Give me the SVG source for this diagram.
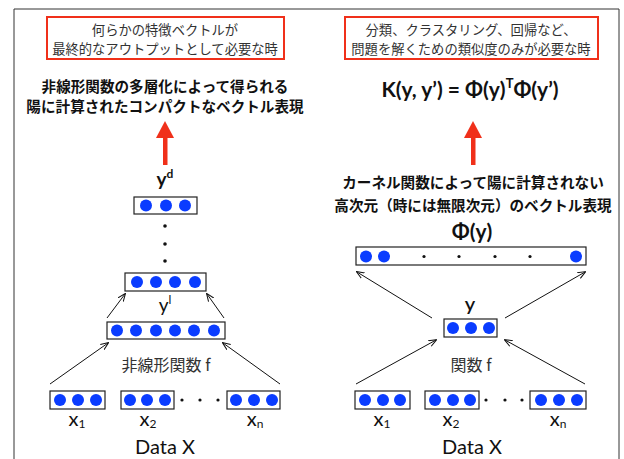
<svg xmlns="http://www.w3.org/2000/svg" width="624" height="459" viewBox="0 0 624 459">
<defs>
<style>
.frame{fill:none;stroke:#333;stroke-width:1}
.rbox{fill:#fff;stroke:#f0301a;stroke-width:2}
.note{font-family:"Noto Sans CJK JP",sans-serif;font-size:13.3px;fill:#333;text-anchor:middle}
.head{font-family:"Noto Sans CJK JP",sans-serif;font-size:14.6px;font-weight:bold;fill:#111;text-anchor:middle}
.lat{font-family:"Lato","Liberation Sans",sans-serif;fill:#111;text-anchor:middle}
.latb{font-family:"Lato","Liberation Sans",sans-serif;font-weight:bold;fill:#111;text-anchor:middle}
.fn{font-family:"Noto Sans CJK JP",sans-serif;font-size:16px;fill:#333;text-anchor:middle}
.vbox{fill:#fff;stroke:#222;stroke-width:1.2}
.dot{fill:#0a3cff}
.sd{fill:#111}
.conn{stroke:#111;stroke-width:1;fill:none;marker-end:url(#ah)}
.red{fill:#f0301a}
</style>
<marker id="ah" viewBox="0 0 10 10" refX="9" refY="5" markerWidth="8" markerHeight="8" orient="auto" markerUnits="userSpaceOnUse">
<path d="M0,1 L10,5 L0,9" fill="none" stroke="#111" stroke-width="1.3"/>
</marker>
</defs>
<rect width="624" height="459" fill="#fff"/>
<path class="frame" d="M14,470 L14,9 L619,9 L619,470"/>

<!-- left side -->
<g id="note-left">
<rect class="rbox" x="47" y="17" width="237" height="42"/>
<text class="note" x="165" y="35">何らかの特徴ベクトルが</text>
<text class="note" x="165" y="54">最終的なアウトプットとして必要な時</text>
</g>
<g id="head-left">
<text class="head" x="165" y="92">非線形関数の多層化によって得られる</text>
<text class="head" x="165" y="112">陽に計算されたコンパクトなベクトル表現</text>
</g>
<g id="arrow-left">
<rect class="red" x="163" y="135" width="4.5" height="30"/>
<polygon class="red" points="156,138 174,138 165,121"/>
</g>
<g id="yd">
<text class="latb" x="165" y="186" font-size="19">y<tspan font-size="12" dy="-8">d</tspan></text>
<rect class="vbox" x="134" y="197" width="63" height="17"/>
<circle class="dot" cx="146" cy="205.5" r="6"/><circle class="dot" cx="166" cy="205.5" r="6"/><circle class="dot" cx="185" cy="205.5" r="6"/>
</g>
<g id="vdots">
<circle class="sd" cx="165" cy="226" r="1.8"/><circle class="sd" cx="165" cy="244" r="1.8"/><circle class="sd" cx="165" cy="261" r="1.8"/>
</g>
<g id="layer4">
<rect class="vbox" x="125" y="273" width="81" height="18"/>
<circle class="dot" cx="137" cy="282" r="6"/><circle class="dot" cx="156" cy="282" r="6"/><circle class="dot" cx="175" cy="282" r="6"/><circle class="dot" cx="195" cy="282" r="6"/>
</g>
<g id="yl">
<text class="lat" x="165" y="312" font-size="19">y<tspan font-size="12" dy="-8">l</tspan></text>
</g>
<g id="layer6">
<rect class="vbox" x="107" y="322" width="118" height="17"/>
<circle class="dot" cx="117" cy="330.5" r="6"/><circle class="dot" cx="136" cy="330.5" r="6"/><circle class="dot" cx="156" cy="330.5" r="6"/><circle class="dot" cx="175" cy="330.5" r="6"/><circle class="dot" cx="194" cy="330.5" r="6"/><circle class="dot" cx="214" cy="330.5" r="6"/>
</g>
<g id="fn-left">
<text class="fn" x="166" y="371">非線形関数 f</text>
</g>
<g id="xl1">
<rect class="vbox" x="50" y="391" width="55" height="18"/>
<circle class="dot" cx="60" cy="400" r="6"/><circle class="dot" cx="78" cy="400" r="6"/><circle class="dot" cx="96" cy="400" r="6"/>
<text class="lat" x="77" y="426" font-size="20">x<tspan font-size="12" dy="1.5">1</tspan></text>
</g>
<g id="xl2">
<rect class="vbox" x="121" y="391" width="53" height="18"/>
<circle class="dot" cx="130" cy="400" r="6"/><circle class="dot" cx="147" cy="400" r="6"/><circle class="dot" cx="165" cy="400" r="6"/>
<text class="lat" x="148" y="426" font-size="20">x<tspan font-size="12" dy="1.5">2</tspan></text>
</g>
<g id="hdots-left">
<circle class="sd" cx="182" cy="400" r="1.6"/><circle class="sd" cx="200" cy="400" r="1.6"/><circle class="sd" cx="218" cy="400" r="1.6"/>
</g>
<g id="xln">
<rect class="vbox" x="227" y="391" width="53" height="18"/>
<circle class="dot" cx="236" cy="400" r="6"/><circle class="dot" cx="254" cy="400" r="6"/><circle class="dot" cx="272" cy="400" r="6"/>
<text class="lat" x="255" y="426" font-size="20">x<tspan font-size="12" dy="1.5">n</tspan></text>
</g>
<g id="datax-left">
<text class="lat" x="165" y="454" font-size="20">Data X</text>
</g>

<!-- right side -->
<g id="note-right">
<rect class="rbox" x="345" y="17" width="253" height="42"/>
<text class="note" x="471" y="35">分類、クラスタリング、回帰など、</text>
<text class="note" x="471" y="54">問題を解くための類似度のみが必要な時</text>
</g>
<g id="formula">
<text class="latb" x="470" y="97" font-size="21">K(y, y’) = Φ(y)<tspan font-size="13" dy="-9">T</tspan><tspan dy="9">Φ(y’)</tspan></text>
</g>
<g id="arrow-right">
<rect class="red" x="471" y="135" width="4.5" height="30"/>
<polygon class="red" points="464,138 482,138 473,121"/>
</g>
<g id="head-right">
<text class="head" x="473" y="188">カーネル関数によって陽に計算されない</text>
<text class="head" x="473" y="211">高次元（時には無限次元）のベクトル表現</text>
</g>
<g id="phiy">
<text class="latb" x="472" y="239" font-size="21">Φ(y)</text>
<rect class="vbox" x="356" y="247" width="230" height="18"/>
<circle class="dot" cx="366" cy="256.5" r="6"/><circle class="dot" cx="384" cy="256.5" r="6"/><circle class="dot" cx="576" cy="256.5" r="6"/>
<circle class="sd" cx="424" cy="256.5" r="1.6"/><circle class="sd" cx="459" cy="256.5" r="1.6"/><circle class="sd" cx="495" cy="256.5" r="1.6"/><circle class="sd" cx="530" cy="256.5" r="1.6"/>
</g>
<g id="y-right">
<text class="lat" x="470" y="311" font-size="20" font-weight="600">y</text>
<rect class="vbox" x="444" y="319" width="53" height="18"/>
<circle class="dot" cx="453" cy="328" r="6"/><circle class="dot" cx="471" cy="328" r="6"/><circle class="dot" cx="489" cy="328" r="6"/>
</g>
<g id="fn-right">
<text class="fn" x="471" y="371">関数 f</text>
</g>
<g id="xr1">
<rect class="vbox" x="355" y="391" width="55" height="18"/>
<circle class="dot" cx="365" cy="400" r="6"/><circle class="dot" cx="383" cy="400" r="6"/><circle class="dot" cx="400" cy="400" r="6"/>
<text class="lat" x="382" y="426" font-size="20">x<tspan font-size="12" dy="1.5">1</tspan></text>
</g>
<g id="xr2">
<rect class="vbox" x="425" y="391" width="54" height="18"/>
<circle class="dot" cx="435" cy="400" r="6"/><circle class="dot" cx="453" cy="400" r="6"/><circle class="dot" cx="470" cy="400" r="6"/>
<text class="lat" x="451" y="426" font-size="20">x<tspan font-size="12" dy="1.5">2</tspan></text>
</g>
<g id="hdots-right">
<circle class="sd" cx="486" cy="400" r="1.6"/><circle class="sd" cx="505" cy="400" r="1.6"/><circle class="sd" cx="522" cy="400" r="1.6"/>
</g>
<g id="xrn">
<rect class="vbox" x="530" y="391" width="56" height="18"/>
<circle class="dot" cx="541" cy="400" r="6"/><circle class="dot" cx="559" cy="400" r="6"/><circle class="dot" cx="577" cy="400" r="6"/>
<text class="lat" x="558" y="426" font-size="20">x<tspan font-size="12" dy="1.5">n</tspan></text>
</g>
<g id="datax-right">
<text class="lat" x="472" y="454" font-size="20">Data X</text>
</g>

<g id="connectors">
<line class="conn" x1="107" y1="318" x2="125" y2="294"/>
<line class="conn" x1="224" y1="318" x2="207" y2="294"/>
<line class="conn" x1="50" y1="384" x2="108" y2="343"/>
<line class="conn" x1="280" y1="384" x2="223" y2="343"/>
<line class="conn" x1="432" y1="318" x2="357" y2="272"/>
<line class="conn" x1="505" y1="318" x2="585" y2="272"/>
<line class="conn" x1="356" y1="384" x2="436" y2="340"/>
<line class="conn" x1="585" y1="384" x2="505" y2="340"/>
</g>
</svg>
